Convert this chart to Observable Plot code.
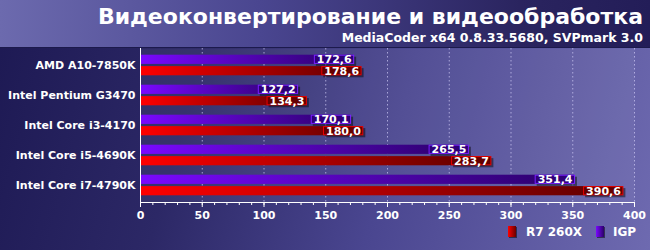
<!DOCTYPE html>
<html>
<head>
<meta charset="utf-8">
<script src="https://cdn.jsdelivr.net/npm/d3@7"></script>
<script src="https://cdn.jsdelivr.net/npm/@observablehq/plot@0.6"></script>
<style>
  html, body { margin: 0; padding: 0; background: #1e1a55; }
  #wrap { position: relative; width: 650px; height: 250px; overflow: hidden;
    font-family: "DejaVu Sans", Verdana, sans-serif; font-weight: bold; color: #fff;
    background: linear-gradient(105deg, #1d1953 0%, #2c2866 30%, #4a4690 60%, #6e6ab0 100%); }
  #header { position: absolute; left: 0; top: 0; width: 650px; height: 47px;
    background: linear-gradient(to right, #6c6aae 0%, #4a4690 40%, #2a245f 80%, #231d58 100%);
    border-bottom: 1px solid #1c1a4c; }
  #title { position: absolute; right: 7px; top: 4px; font-size: 22px; line-height: 26px; white-space: nowrap; }
  #subtitle { position: absolute; right: 7px; top: 31px; font-size: 12.5px; line-height: 14px; white-space: nowrap; }
  #chart { position: absolute; left: 0; top: 0; }
  #legend { position: absolute; top: 225px; left: 0; width: 650px; height: 14px; font-size: 12px; }
  .sw { position: absolute; top: 1px; width: 8px; height: 11px; box-shadow: 1px 1px 0 rgba(0,0,0,0.5); }
  .lt { position: absolute; top: 0; line-height: 14px; }
</style>
</head>
<body>
<div id="wrap">
  <div id="header"></div>
  <div id="title">Видеоконвертирование и видеообработка</div>
  <div id="subtitle">MediaCoder x64 0.8.33.5680, SVPmark 3.0</div>
  <div id="chart"></div>
  <div id="legend"></div>
</div>
<script>
const categories = ["AMD A10-7850K", "Intel Pentium G3470", "Intel Core i3-4170", "Intel Core i5-4690K", "Intel Core i7-4790K"];
const igpValues = [172.6, 127.2, 170.1, 265.5, 351.4];
const r7Values = [178.6, 134.3, 180.0, 283.7, 390.6];
const seriesNames = ["R7 260X", "IGP"];
const xTicks = [0, 50, 100, 150, 200, 250, 300, 350, 400];
const xMinorTicks = d3.range(0, 401, 10);

const igpData = categories.map((c, i) => ({cat: c, value: igpValues[i], series: "IGP"}));
const r7Data = categories.map((c, i) => ({cat: c, value: r7Values[i], series: "R7 260X"}));
const fmt = v => d3.format(".1f")(v).replace(".", ",");

const defs = () => {
  const d = d3.create("svg:defs");
  const g1 = d.append("linearGradient").attr("id", "gIGP");
  g1.append("stop").attr("offset", "0%").attr("stop-color", "#7a08ff");
  g1.append("stop").attr("offset", "100%").attr("stop-color", "#2a0068");
  const g2 = d.append("linearGradient").attr("id", "gR7");
  g2.append("stop").attr("offset", "0%").attr("stop-color", "#ff0000");
  g2.append("stop").attr("offset", "100%").attr("stop-color", "#5c0000");
  return d.node();
};

const band = 30.8, barH = 10, gap = 1.4;
const outer = (band - 2 * barH - gap) / 2;

const chart = Plot.plot({
  width: 650,
  height: 250,
  marginTop: 48,
  marginBottom: 48,
  marginLeft: 140,
  marginRight: 16,
  style: {background: "transparent", color: "white", fontFamily: "DejaVu Sans, Verdana, sans-serif", fontWeight: "bold", overflow: "visible"},
  x: {domain: [0, 400], label: null},
  y: {domain: categories, padding: 0, label: null},
  marks: [
    defs,
    Plot.frame({fill: "white", fillOpacity: 0.05, stroke: null}),
    Plot.ruleX(xTicks.slice(1), {stroke: "#c8c4f0", strokeOpacity: 0.75, strokeDasharray: "1.5,2.5"}),
    Plot.barX(igpData, {x: "value", y: "cat", insetTop: outer, insetBottom: outer + barH + gap, fill: "url(#gIGP)"}),
    Plot.barX(r7Data, {x: "value", y: "cat", insetTop: outer + barH + gap, insetBottom: outer, fill: "url(#gR7)"}),
    Plot.text(igpData, {x: "value", y: "cat", text: d => fmt(d.value), textAnchor: "end", dx: -2, dy: -(gap / 2 + barH / 2), fill: "white", fontSize: 11, fontWeight: "bold"}),
    Plot.text(r7Data, {x: "value", y: "cat", text: d => fmt(d.value), textAnchor: "end", dx: -2, dy: (gap / 2 + barH / 2), fill: "white", fontSize: 11, fontWeight: "bold"}),
    Plot.ruleX([0], {stroke: "white", strokeWidth: 1}),
    Plot.frame({anchor: "bottom", stroke: "white"}),
    Plot.axisX({ticks: xMinorTicks, tickSize: 3, tickFormat: () => "", stroke: "white", label: null}),
    Plot.axisX({ticks: xTicks, tickSize: 5, tickPadding: 4, fontSize: 11, fontWeight: "bold", fill: "white", stroke: "white", label: null}),
    Plot.axisY({tickSize: 0, tickPadding: 5, fontSize: 11, fontWeight: "bold", fill: "white", label: null})
  ]
});
document.getElementById("chart").appendChild(chart);

// label boxes behind the value labels (measured from the rendered marks)
const NS = "http://www.w3.org/2000/svg";
try {
  const svgBox = chart.getBoundingClientRect();
  const barGroups = chart.querySelectorAll('g[aria-label="bar"]');
  const textGroups = chart.querySelectorAll('g[aria-label="text"]');
  const boxStyles = [
    {fill: "#2e0078", stroke: "#7a20ff"},
    {fill: "#640000", stroke: "#e80000"}
  ];
  boxStyles.forEach((st, k) => {
    const barG = barGroups[k], textG = textGroups[k];
    if (!barG || !textG) return;
    const rects = barG.querySelectorAll("rect");
    const boxG = document.createElementNS(NS, "g");
    textG.parentNode.insertBefore(boxG, textG);
    textG.querySelectorAll("text").forEach((t, i) => {
      const tb = t.getBoundingClientRect();
      const rb = rects[i].getBoundingClientRect();
      const x0 = tb.left - svgBox.left - 3;
      const x1 = rb.right - svgBox.left + 1;
      const y0 = rb.top - svgBox.top, h = rb.height;
      const sh = document.createElementNS(NS, "rect");
      sh.setAttribute("x", x0 + 2); sh.setAttribute("y", y0 + 2);
      sh.setAttribute("width", x1 - x0); sh.setAttribute("height", h);
      sh.setAttribute("fill", "rgba(0,0,0,0.45)");
      const bx = document.createElementNS(NS, "rect");
      bx.setAttribute("x", x0 + 0.5); bx.setAttribute("y", y0 + 0.5);
      bx.setAttribute("width", x1 - x0 - 1); bx.setAttribute("height", h - 1);
      bx.setAttribute("fill", st.fill);
      bx.setAttribute("stroke", st.stroke);
      boxG.appendChild(sh);
      boxG.appendChild(bx);
    });
  });
} catch (e) { console.error(e); }

// legend
const legendColors = {"R7 260X": "linear-gradient(to right, #ff0000, #6a0000)", "IGP": "linear-gradient(to right, #7a08ff, #2a0068)"};
const legendPos = {"R7 260X": [508, 526], "IGP": [596, 613]};
const lg = d3.select("#legend");
seriesNames.forEach(s => {
  lg.append("div").attr("class", "sw").style("left", legendPos[s][0] + "px").style("background", legendColors[s]);
  lg.append("div").attr("class", "lt").style("left", legendPos[s][1] + "px").text(s);
});
</script>
</body>
</html>
